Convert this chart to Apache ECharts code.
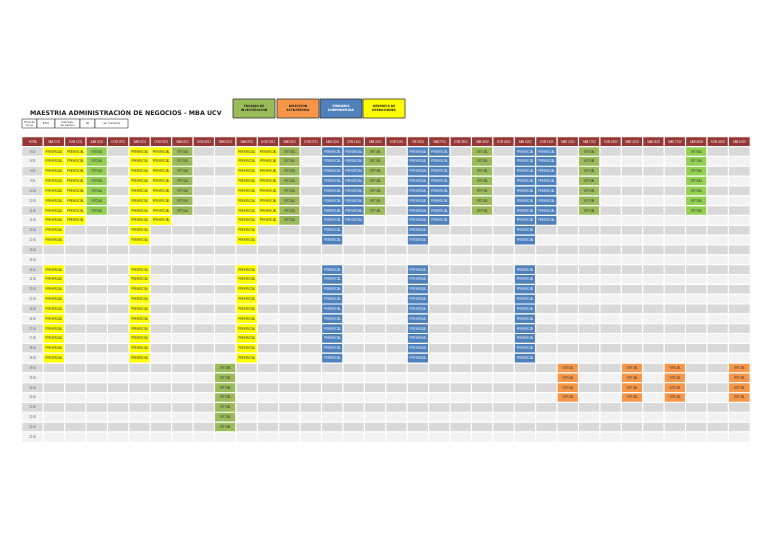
<!DOCTYPE html>
<html><head><meta charset="utf-8">
<script src="https://cdn.jsdelivr.net/npm/echarts@6/dist/echarts.min.js"></script>
<style>html,body{margin:0;padding:0;background:#fff}#c{width:768px;height:543px}</style>
</head><body><div id="c"></div>
<script>
const dates = ['SAB 11/11','DOM 12/11','SAB 18/11','DOM 19/11','SAB 25/11','DOM 26/11','SAB 02/12','DOM 03/12','MAR 05/12','SAB 09/12','DOM 10/12','SAB 16/12','DOM 17/12','SAB 13/01','DOM 14/01','SAB 20/01','DOM 21/01','VIE 26/01','SAB 27/01','DOM 28/01','SAB 03/02','DOM 04/02','SAB 10/02','DOM 11/02','MAR 13/02','SAB 17/02','DOM 18/02','MAR 20/02','SAB 24/02','MAR 27/02','SAB 03/03','DOM 04/03','SAB 10/03'];
const times = ['8:00','8:30','9:00','9:30','10:00','10:30','11:00','11:30','12:00','12:30','13:00','13:30','14:00','14:30','15:00','15:30','16:00','16:30','17:00','17:30','18:00','18:30','19:00','19:30','20:00','20:30','21:00','21:30','22:00','22:30'];
// sessions: [column index, first row, last row, course]
const sessions = [
 [0,0,21,'GO'],[1,0,7,'GO'],[2,0,6,'TIb'],
 [4,0,21,'GO'],[5,0,7,'GO'],[6,0,6,'TI'],
 [9,0,21,'GO'],[10,0,7,'GO'],[11,0,7,'TI'],
 [13,0,21,'FC'],[14,0,7,'FC'],[15,0,6,'TI'],
 [17,0,21,'FC'],[18,0,7,'FC'],[20,0,6,'TI'],
 [22,0,21,'FC'],[23,0,7,'FC'],[25,0,6,'TI'],
 [30,0,6,'TIb'],
 [8,22,28,'TI'],
 [24,22,25,'DE'],[27,22,25,'DE'],[29,22,25,'DE'],[32,22,25,'DE']
];
const blankRows = ['13:00','13:30'];
const courseLabel = {GO:'PRESENCIAL',FC:'PRESENCIAL',TI:'VIRTUAL',TIb:'VIRTUAL',DE:'VIRTUAL'};
const courseColor = {GO:'#ffff00',FC:'#4f81bd',TI:'#9bbb59',TIb:'#92d050',DE:'#f79646'};
const legendNames = ['TRABAJO DE\nINVESTIGACION','DIRECCION\nESTRATEGICA','FINANZAS\nCORPORATIVAS','GERENCIA DE\nOPERACIONES'];
const legendColors = ['#9bbb59','#f79646','#4f81bd','#ffff00'];

const xCats = ['HORA'].concat(dates);
const yCats = ['H'].concat(times);
const grid = {};
sessions.forEach(s=>{ for(let r=s[1]; r<=s[2]; r++){ if(blankRows.includes(times[r])) continue; grid[s[0]+','+r]=s[3]; }});
const data = [];
xCats.forEach((xc,xi)=>{
  yCats.forEach((yc,yi)=>{
    let color, text='', tc='#333', fs=2.7;
    if(yi===0){ color='#953735'; text=xc; tc='#f3dede'; }
    else if(xi===0){ color = (yi%2===1)?'#d9d9d9':'#f2f2f2'; text=yc; tc='#666'; }
    else {
      const c = grid[(xi-1)+','+(yi-1)];
      if(c){ color=courseColor[c]; text=courseLabel[c]; tc = c==='FC'?'#dde6f3':'#444'; }
      else color = (yi%2===1)?'#d9d9d9':'#f2f2f2';
    }
    data.push({value:[xi,yi,1],itemStyle:{color},label:{show:true,formatter:text,color:tc,fontSize:fs}});
  });
});
const graphic = [
 {type:'text',left:30,top:110,style:{text:'MAESTRIA ADMINISTRACION DE NEGOCIOS - MBA UCV',font:'bold 6.3px "DejaVu Sans"',fill:'#222'}}
];
const lx=[233,277,320,363];
legendNames.forEach((n,i)=>{
  graphic.push({type:'rect',shape:{x:lx[i],y:99,width:42,height:19},style:{fill:legendColors[i],stroke:'#333',lineWidth:0.8}});
  graphic.push({type:'text',x:lx[i]+21,y:108.5,style:{text:n,align:'center',verticalAlign:'middle',font:'bold 3px "DejaVu Sans"',fill:i===2?'#fff':'#222',lineHeight:4}});
});
const info=[[22,15,'Hora de\ninicio'],[37,18,'8:00'],[55,25,'Intervalo\nde tiempo'],[80,15,'30'],[95,33,'(en minutos)']];
info.forEach(b=>{
  graphic.push({type:'rect',shape:{x:b[0],y:119,width:b[1],height:9},style:{fill:'#fff',stroke:'#333',lineWidth:0.6}});
  graphic.push({type:'text',x:b[0]+b[1]/2,y:123.5,style:{text:b[2],align:'center',verticalAlign:'middle',font:'2.8px "DejaVu Sans"',fill:'#333',lineHeight:3.3}});
});
const chart = echarts.init(document.getElementById('c'));
chart.setOption({
  animation:false,
  grid:{left:22,right:18,top:137,bottom:101},
  xAxis:{type:'category',data:xCats,show:false},
  yAxis:{type:'category',data:yCats,inverse:true,show:false},
  graphic,
  series:[{type:'heatmap',data,itemStyle:{borderColor:'#fff',borderWidth:1.2},emphasis:{disabled:true}}]
});
</script></body></html>
